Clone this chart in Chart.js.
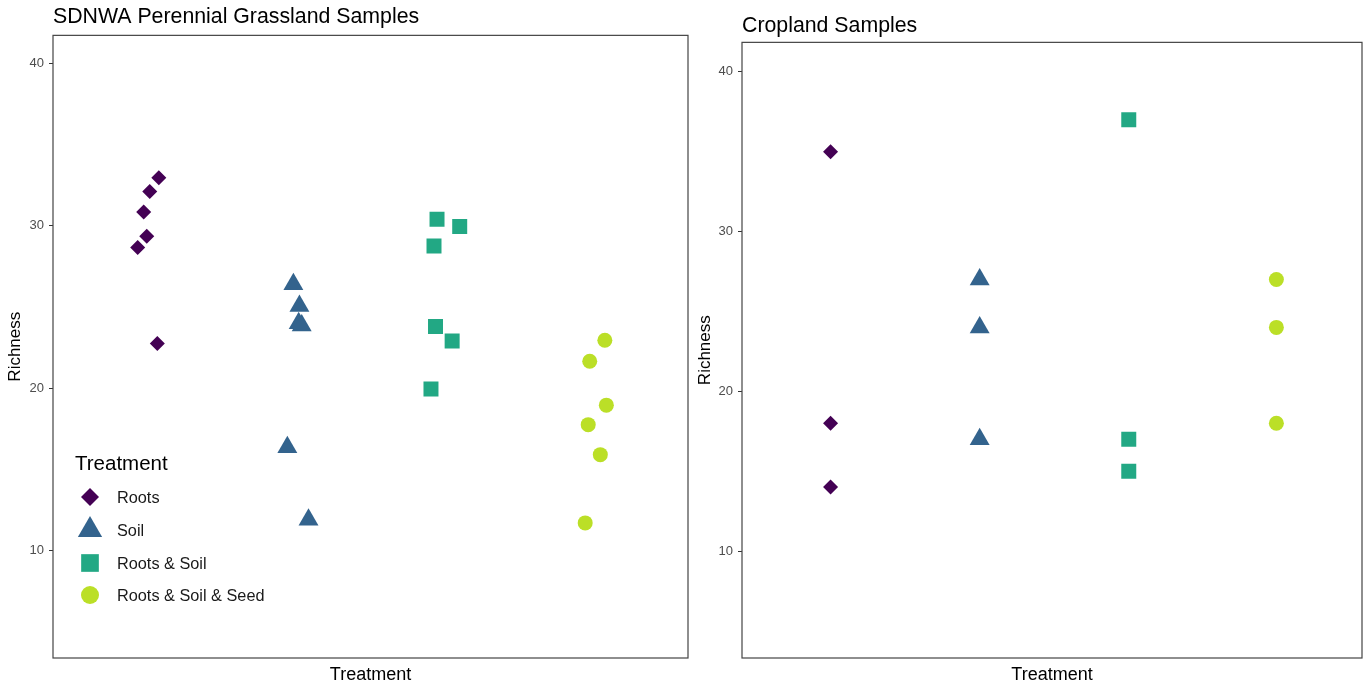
<!DOCTYPE html>
<html>
<head>
<meta charset="utf-8">
<script src="https://cdn.jsdelivr.net/npm/chart.js@4"></script>
<style>
  body { margin: 0; background: #fff; overflow: hidden; }
  #izq { position: absolute; left: 0; top: 0; }
  #der { position: absolute; left: 690px; top: 0; }
</style>
</head>
<body>
<canvas id="izq" width="690" height="688"></canvas>
<canvas id="der" width="680" height="688"></canvas>
<script>
// datos
const tratamientos = ['Roots', 'Soil', 'Roots & Soil', 'Roots & Soil & Seed'];
const colores = ['#440154', '#33638D', '#22A884', '#BBDF27'];
const formas = ['rectRot', 'triangle', 'rect', 'circle'];
const ticksY = [10, 20, 30, 40];

// pastizal (con jitter horizontal)
const pastoRootsX = [1.10, 1.04, 1.00, 1.02, 0.96, 1.09];
const pastoRootsY = [32.95, 32.1, 30.85, 29.35, 28.65, 22.75];
const pastoSoilX = [1.99, 2.03, 2.025, 2.045, 1.95, 2.09];
const pastoSoilY = [26.4, 25.05, 24.0, 23.85, 16.35, 11.9];
const pastoRSX = [2.94, 3.09, 2.92, 2.93, 3.04, 2.90];
const pastoRSY = [30.4, 29.95, 28.75, 23.8, 22.9, 19.95];
const pastoRSSX = [4.05, 3.95, 4.06, 3.94, 4.02, 3.92];
const pastoRSSY = [22.95, 21.65, 18.95, 17.75, 15.9, 11.7];

// cultivo
const cultivoRootsX = [1.0, 1.0, 1.0];
const cultivoRootsY = [35, 18, 14];
const cultivoSoilX = [2.01, 2.01, 2.01];
const cultivoSoilY = [27, 24, 17];
const cultivoRSX = [3.02, 3.02, 3.02];
const cultivoRSY = [37, 17, 15];
const cultivoRSSX = [4.02, 4.02, 4.02];
const cultivoRSSY = [27, 24, 18];

const fuente = "'Liberation Sans', Arial, sans-serif";
const radios = [7.5, 11.5, 10.6, 7.5];

function armarPuntos(xs, ys) {
    return xs.map((x, i) => ({ x: x, y: ys[i] }));
}

function armarDatasets(grupos) {
    return grupos.map((g, i) => ({
        label: tratamientos[i],
        data: armarPuntos(g[0], g[1]),
        pointStyle: formas[i],
        backgroundColor: colores[i],
        borderColor: colores[i],
        borderWidth: 0,
        pointRadius: radios[i],
        showLine: false
    }));
}

const marco = {
    id: 'marco',
    afterDraw(chart) {
        const a = chart.chartArea;
        const ctx = chart.ctx;
        ctx.save();
        ctx.strokeStyle = '#444';
        ctx.lineWidth = 1.2;
        ctx.strokeRect(a.left, a.top, a.right - a.left, a.bottom - a.top);
        ctx.restore();
    }
};

const leyenda = {
    id: 'leyenda',
    afterDraw(chart) {
        if (!chart.options.plugins.leyenda || !chart.options.plugins.leyenda.mostrar) return;
        const ctx = chart.ctx;
        ctx.save();
        ctx.fillStyle = '#000';
        ctx.textBaseline = 'middle';
        ctx.font = '20.5px ' + fuente;
        ctx.fillText('Treatment', 75, 464);
        const filas = [497, 530, 563, 595];
        const radLey = [9, 14, 12.5, 9];
        ctx.font = '16.3px ' + fuente;
        for (let i = 0; i < tratamientos.length; i++) {
            ctx.fillStyle = colores[i];
            Chart.helpers.drawPoint(ctx, {
                pointStyle: formas[i], radius: radLey[i], rotation: 0, borderWidth: 0
            }, 90, filas[i]);
            ctx.fillStyle = '#1a1a1a';
            ctx.fillText(tratamientos[i], 117, filas[i] + 2);
        }
        ctx.restore();
    }
};

function crearPanel(id, titulo, grupos, minY, maxY, anchoEje, padTitulo, padDer, conLeyenda) {
    const ctx = document.getElementById(id).getContext('2d');
    new Chart(ctx, {
        type: 'scatter',
        data: { datasets: armarDatasets(grupos) },
        plugins: [marco, leyenda],
        options: {
            responsive: false,
            animation: false,
            layout: { autoPadding: false, padding: { top: 0, right: padDer, bottom: 0, left: 0 } },
            plugins: {
                legend: { display: false },
                tooltip: { enabled: false },
                leyenda: { mostrar: conLeyenda },
                title: {
                    display: true,
                    text: titulo,
                    align: 'start',
                    fullSize: false,
                    color: '#000',
                    font: { family: fuente, size: 21.3, weight: 'normal', lineHeight: 1.2 },
                    padding: padTitulo
                }
            },
            scales: {
                x: {
                    type: 'linear',
                    min: 0.4,
                    max: 4.6,
                    ticks: { display: false },
                    grid: { display: false },
                    border: { display: false },
                    title: {
                        display: true,
                        text: 'Treatment',
                        color: '#000',
                        font: { family: fuente, size: 18, lineHeight: 1.2 },
                        padding: { top: 0, bottom: 2 }
                    },
                    afterFit: s => {
                        s.height = 30;
                        s.paddingLeft = 0;
                        s.paddingRight = 0;
                    }
                },
                y: {
                    min: minY,
                    max: maxY,
                    afterBuildTicks: s => { s.ticks = ticksY.map(v => ({ value: v })); },
                    ticks: {
                        color: '#4d4d4d',
                        padding: 5,
                        font: { family: fuente, size: 13 }
                    },
                    grid: {
                        drawOnChartArea: false,
                        drawTicks: true,
                        tickLength: 4,
                        color: '#333'
                    },
                    border: { display: false },
                    title: {
                        display: true,
                        text: 'Richness',
                        color: '#000',
                        font: { family: fuente, size: 17, lineHeight: 1.2 },
                        padding: { top: 5, bottom: 0 }
                    },
                    afterFit: s => { s.width = anchoEje; }
                }
            }
        }
    });
}

crearPanel('izq', 'SDNWA Perennial Grassland Samples', [
    [pastoRootsX, pastoRootsY],
    [pastoSoilX, pastoSoilY],
    [pastoRSX, pastoRSY],
    [pastoRSSX, pastoRSSY]
], 3.38, 41.72, 53, { top: 4.4, bottom: 5.4 }, 2, true);

crearPanel('der', 'Cropland Samples', [
    [cultivoRootsX, cultivoRootsY],
    [cultivoSoilX, cultivoSoilY],
    [cultivoRSX, cultivoRSY],
    [cultivoRSSX, cultivoRSSY]
], 3.3, 41.85, 52, { top: 13.4, bottom: 3.4 }, 8, false);
</script>
</body>
</html>
